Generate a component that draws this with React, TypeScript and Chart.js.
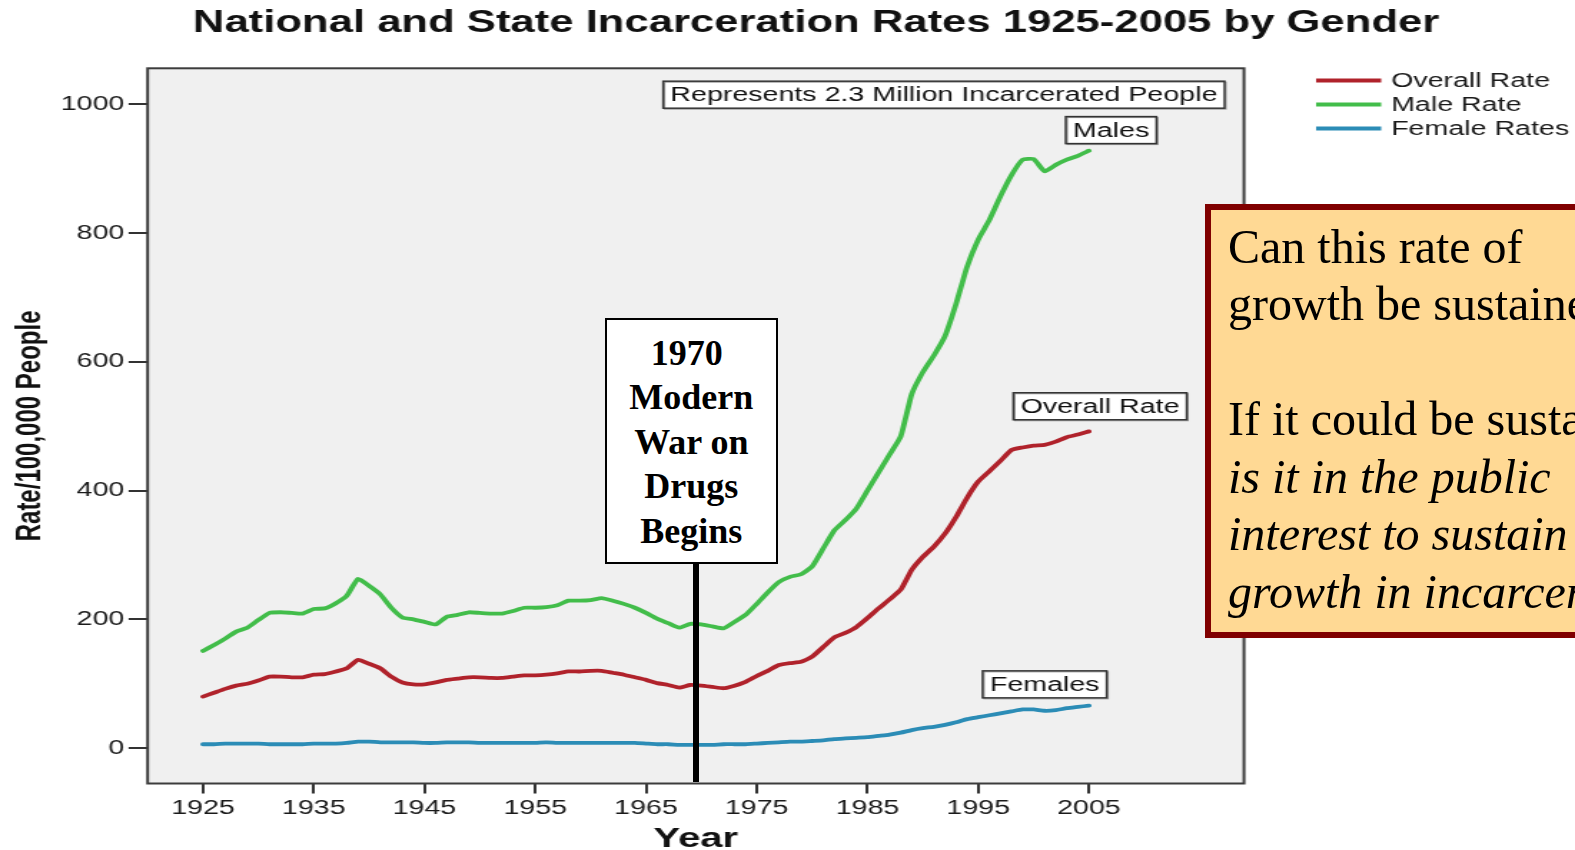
import React, { useEffect, useRef } from "react";
import { Chart, registerables } from "chart.js";

Chart.register(...registerables);

// ---------- data ----------
const years = [
  1925, 1926, 1927, 1928, 1929, 1930, 1931, 1932, 1933, 1934,
  1935, 1936, 1937, 1938, 1939, 1940, 1941, 1942, 1943, 1944,
  1945, 1946, 1947, 1948, 1949, 1950, 1951, 1952, 1953, 1954,
  1955, 1956, 1957, 1958, 1959, 1960, 1961, 1962, 1963, 1964,
  1965, 1966, 1967, 1968, 1969, 1970, 1971, 1972, 1973, 1974,
  1975, 1976, 1977, 1978, 1979, 1980, 1981, 1982, 1983, 1984,
  1985, 1986, 1987, 1988, 1989, 1990, 1991, 1992, 1993, 1994,
  1995, 1996, 1997, 1998, 1999, 2000, 2001, 2002, 2003, 2004,
  2005,
];

const overallRate = [
  80, 86, 92, 97, 100, 105, 111, 111, 110, 110,
  114, 115, 119, 124, 137, 131, 124, 111, 102, 99,
  99, 102, 106, 108, 110, 110, 109, 109, 111, 113,
  113, 114, 116, 119, 119, 120, 120, 117, 114, 110,
  106, 101, 98, 94, 98, 97, 95, 93, 97, 103,
  112, 120, 129, 132, 134, 142, 157, 172, 179, 188,
  202, 217, 231, 246, 277, 297, 313, 333, 359, 389,
  414, 430, 446, 463, 467, 470, 471, 476, 483, 487,
  492,
];

const maleRate = [
  151, 160, 170, 181, 187, 199, 210, 211, 210, 209,
  216, 217, 225, 237, 263, 252, 239, 218, 203, 200,
  196, 192, 204, 207, 211, 210, 209, 209, 213, 218,
  218, 219, 222, 229, 229, 230, 233, 229, 224, 218,
  210, 201, 194, 187, 193, 192, 189, 186, 196, 207,
  224, 242, 258, 266, 270, 282, 310, 338, 354, 372,
  400, 428, 456, 484, 550, 584, 610, 640, 690, 748,
  790, 820, 857, 890, 914, 915, 896, 906, 914, 920,
  928,
];

const femaleRate = [
  6, 6, 7, 7, 7, 7, 6, 6, 6, 6,
  7, 7, 7, 8, 10, 10, 9, 9, 9, 9,
  8, 8, 9, 9, 9, 8, 8, 8, 8, 8,
  8, 9, 8, 8, 8, 8, 8, 8, 8, 8,
  7, 6, 6, 5, 5, 5, 5, 6, 6, 6,
  7, 8, 9, 10, 10, 11, 12, 14, 15, 16,
  17, 19, 21, 24, 28, 31, 33, 36, 40, 45,
  48, 51, 54, 57, 60, 60, 58, 59, 62, 64,
  66,
];

const seriesLabels = ["Overall Rate", "Male Rate", "Female Rates"];
const seriesColors = ["#B0222B", "#42BD4A", "#2B8CB6"];

const xTickYears = [1925, 1935, 1945, 1955, 1965, 1975, 1985, 1995, 2005];
const yTickValues = [0, 200, 400, 600, 800, 1000];

const chartTitle = "National and State Incarceration Rates 1925-2005 by Gender";
const xAxisTitle = "Year";
const yAxisTitle = "Rate/100,000 People";

const boxLabelTexts = ["Represents 2.3 Million Incarcerated People", "Males", "Overall Rate", "Females"];
const boxLabelYears = [1991.9, 2007.0, 2006.0, 2001.0];
const boxLabelValues = [1015, 960, 531, 99];

const drugWarLines = ["1970", "Modern", "War on", "Drugs", "Begins"];
const calloutPlain = ["Can this rate of", "growth be sustained?", "", "If it could be sustained,"];
const calloutItalic = ["is it in the public", "interest to sustain", "growth in incarceration?"];

// ---------- layout ----------
const CANVAS_W = 1101;
const CANVAS_H = 850;
const PAGE_W = 1575;
const SANS = "'Liberation Sans', Arial, sans-serif";
const SERIF = "'Liberation Serif', 'Times New Roman', serif";

const decorPlugin = {
  id: "decor",
  beforeDraw(chart: any) {
    const { ctx, chartArea: a } = chart;
    ctx.save();
    ctx.fillStyle = "#F0F0F0";
    ctx.fillRect(a.left, a.top, a.right - a.left, a.bottom - a.top);
    ctx.restore();
  },
  beforeDatasetsDraw(chart: any) {
    const { ctx, chartArea: a } = chart;
    ctx.save();
    ctx.strokeStyle = "#3C3C3C";
    ctx.lineWidth = 2;
    ctx.strokeRect(a.left, a.top, a.right - a.left, a.bottom - a.top);
    ctx.restore();
  },
  afterDraw(chart: any) {
    const { ctx, scales } = chart;
    ctx.save();
    // title
    ctx.fillStyle = "#111";
    ctx.font = `bold 30.5px ${SANS}`;
    ctx.textAlign = "center";
    ctx.textBaseline = "middle";
    ctx.fillText(chartTitle, 570.5, 23.5);

    // legend
    const legendY = [80.4, 104.5, 128.6];
    ctx.font = `20px ${SANS}`;
    ctx.textAlign = "left";
    chart.data.datasets.forEach((ds: any, i: number) => {
      ctx.strokeStyle = ds.borderColor;
      ctx.lineWidth = 4;
      ctx.beginPath();
      ctx.moveTo(920, legendY[i]);
      ctx.lineTo(965.5, legendY[i]);
      ctx.stroke();
      ctx.fillStyle = "#1a1a1a";
      ctx.fillText(ds.label, 972.4, legendY[i] + 1);
    });

    // text box labels
    ctx.font = `20px ${SANS}`;
    ctx.textAlign = "center";
    boxLabelTexts.forEach((t, i) => {
      const cx = scales.x.getPixelForValue(boxLabelYears[i]);
      const cy = scales.y.getPixelForValue(boxLabelValues[i]);
      const w = ctx.measureText(t).width + 10;
      const h = 27;
      ctx.fillStyle = "#FFFFFF";
      ctx.fillRect(cx - w / 2, cy - h / 2, w, h);
      ctx.strokeStyle = "#9a9a9a";
      ctx.lineWidth = 1;
      ctx.strokeRect(cx - w / 2 + 1, cy - h / 2 + 1, w, h);
      ctx.strokeStyle = "#333";
      ctx.lineWidth = 1.5;
      ctx.strokeRect(cx - w / 2, cy - h / 2, w, h);
      ctx.fillStyle = "#111";
      ctx.fillText(t, cx, cy + 1);
    });
    ctx.restore();
  },
};

export default function App() {
  const canvasRef = useRef<HTMLCanvasElement | null>(null);

  useEffect(() => {
    document.body.style.margin = "0";
    const canvas = canvasRef.current;
    if (!canvas) return;
    const seriesValues = [overallRate, maleRate, femaleRate];
    const chart = new Chart(canvas, {
      type: "line",
      data: {
        datasets: seriesLabels.map((label, i) => ({
          label,
          data: years.map((yr, j) => ({ x: yr, y: seriesValues[i][j] })),
          borderColor: seriesColors[i],
          backgroundColor: seriesColors[i],
          borderWidth: 3.8,
          pointRadius: 0,
          tension: 0.15,
          fill: false,
          borderJoinStyle: "round",
          borderCapStyle: "round",
        })),
      },
      options: {
        animation: false,
        responsive: false,
        devicePixelRatio: 1,
        events: [],
        layout: { padding: { left: 0, top: 68.3, right: CANVAS_W - 869.6, bottom: 0 } },
        plugins: {
          legend: { display: false },
          title: { display: false },
          tooltip: { enabled: false },
        },
        scales: {
          x: {
            type: "linear",
            min: 1920,
            max: 2019,
            afterBuildTicks: (s: any) => {
              s.ticks = xTickYears.map((v) => ({ value: v }));
            },
            afterFit: (s: any) => {
              s.height = CANVAS_H - 783.5;
            },
            border: { display: false },
            grid: { drawOnChartArea: false, drawTicks: true, tickLength: 10, color: "#333", lineWidth: 2 },
            ticks: {
              autoSkip: false,
              maxRotation: 0,
              padding: 3,
              color: "#1a1a1a",
              font: { family: SANS, size: 20 },
              callback: (v: any) => String(v),
            },
            title: {
              display: true,
              text: xAxisTitle,
              color: "#111",
              font: { family: SANS, size: 28, weight: "bold", lineHeight: 0.74 },
              padding: { top: 0, bottom: 0 },
            },
          },
          y: {
            type: "linear",
            min: -55,
            max: 1056,
            afterBuildTicks: (s: any) => {
              s.ticks = yTickValues.map((v) => ({ value: v }));
            },
            afterFit: (s: any) => {
              s.width = 103.2;
            },
            border: { display: false },
            grid: { drawOnChartArea: false, drawTicks: true, tickLength: 13.3, color: "#333", lineWidth: 2 },
            ticks: {
              padding: 3,
              color: "#1a1a1a",
              font: { family: SANS, size: 20 },
              callback: (v: any) => String(v),
            },
            title: {
              display: true,
              text: yAxisTitle,
              color: "#111",
              font: { family: SANS, size: 24, weight: "bold", lineHeight: 1.2 },
              padding: { top: 6.6, bottom: 0 },
            },
          },
        },
      },
      plugins: [decorPlugin],
    } as any);
    return () => chart.destroy();
  }, []);

  return (
    <div
      style={{
        position: "fixed",
        left: 0,
        top: 0,
        width: PAGE_W,
        height: CANVAS_H,
        overflow: "hidden",
        background: "#FFFFFF",
      }}
    >
      <canvas
        ref={canvasRef}
        width={CANVAS_W}
        height={CANVAS_H}
        style={{ position: "absolute", left: 0, top: 0, width: PAGE_W + "px", height: CANVAS_H + "px" }}
      />
      {/* 1970 marker */}
      <div
        style={{
          position: "absolute",
          left: 693.4,
          top: 563,
          width: 5.3,
          height: 219,
          background: "#000",
        }}
      />
      <div
        style={{
          position: "absolute",
          left: 605,
          top: 318.3,
          width: 172.7,
          height: 245.7,
          boxSizing: "border-box",
          border: "2px solid #000",
          background: "#FFFFFF",
          fontFamily: SERIF,
          fontWeight: "bold",
          fontSize: 36,
          lineHeight: "44.5px",
          textAlign: "center",
          paddingTop: 10.5,
          color: "#000",
          whiteSpace: "nowrap",
        }}
      >
        {drugWarLines.map((l, i) => (
          <div key={i} style={{ paddingRight: i === 0 ? 9 : 0 }}>
            {l}
          </div>
        ))}
      </div>
      {/* callout */}
      <div
        style={{
          position: "absolute",
          left: 1205,
          top: 204,
          width: 480,
          height: 434.3,
          boxSizing: "border-box",
          border: "6px solid #800000",
          background: "#FFD994",
          fontFamily: SERIF,
          fontSize: 48,
          lineHeight: "57.5px",
          padding: "7.7px 0 0 17px",
          color: "#000",
          whiteSpace: "nowrap",
        }}
      >
        {calloutPlain.map((l, i) => (
          <div key={"p" + i} style={{ height: 57.5 }}>
            {l}
          </div>
        ))}
        {calloutItalic.map((l, i) => (
          <div key={"i" + i} style={{ fontStyle: "italic", height: 57.5 }}>
            {l}
          </div>
        ))}
      </div>
    </div>
  );
}
